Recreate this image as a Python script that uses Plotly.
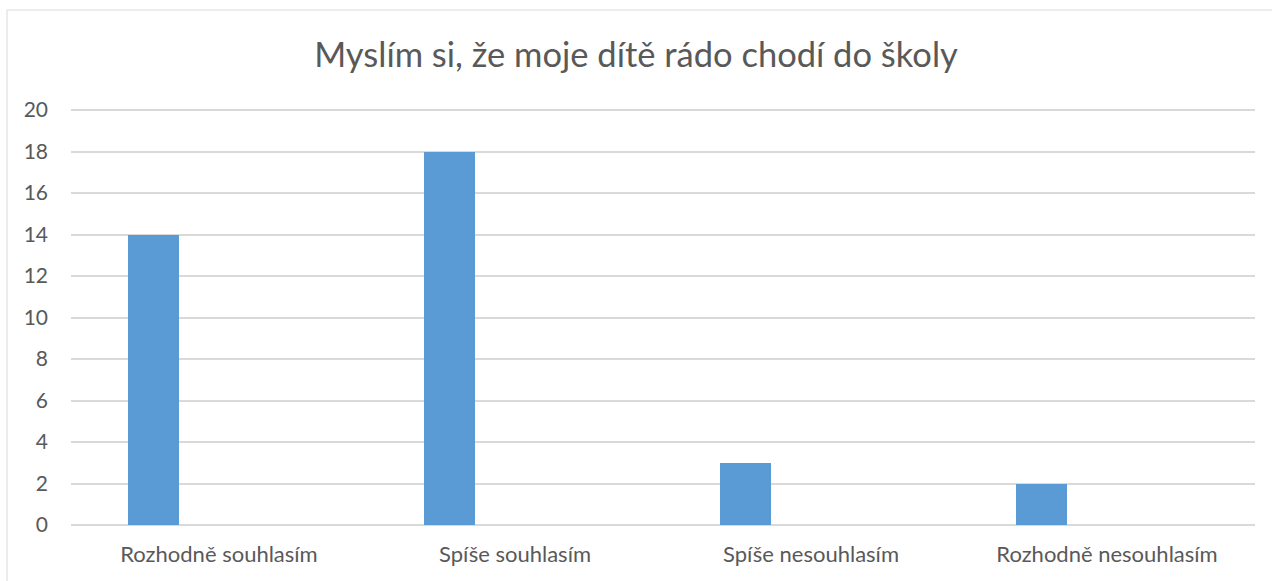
import plotly.graph_objects as go

categories = ['Rozhodně souhlasím', 'Spíše souhlasím', 'Spíše nesouhlasím', 'Rozhodně nesouhlasím']
values = [14, 18, 3, 2]
y_ticks = [0, 2, 4, 6, 8, 10, 12, 14, 16, 18, 20]

txt = '#595959'

fig = go.Figure(
    data=[
        go.Bar(
            x=categories,
            y=values,
            marker=dict(color='#5b9bd5', line=dict(width=0)),
            width=0.174,
            offset=-0.308,
            hoverinfo='x+y',
        )
    ]
)

fig.update_layout(
    width=1272, height=581,
    margin=dict(l=71, r=17, t=109, b=56),
    paper_bgcolor='white', plot_bgcolor='white',
    font=dict(family='Lato, Noto Sans, sans-serif', color=txt, size=20),
    title=dict(text='Myslím si, že moje dítě rádo chodí do školy',
               x=0.5, xanchor='center', y=0.905, yanchor='middle',
               font=dict(size=34.5, color=txt)),
    showlegend=False,
    bargap=0,
)

fig.update_xaxes(showgrid=False, showline=False, ticks='', ticklabelstandoff=14,
                 tickfont=dict(size=22, color=txt))
fig.update_yaxes(range=[0, 20.05], tickvals=y_ticks, showgrid=True, gridcolor='#d9d9d9',
                 gridwidth=1.5, zeroline=True, zerolinecolor='#d9d9d9', zerolinewidth=1.5,
                 showline=False, ticks='', ticklabelstandoff=22,
                 tickfont=dict(size=21, color=txt))

# light chart-area border like the spreadsheet frame
fig.add_shape(type='rect', xref='paper', yref='paper',
              x0=-64 / 1184, x1=1.2, y0=-0.2, y1=1 + 99 / 416,
              line=dict(color='#d9d9d9', width=1), fillcolor='rgba(0,0,0,0)', layer='below')

fig.write_html('out.html', config={'displayModeBar': False},
               post_script="document.body.style.margin='0';")
